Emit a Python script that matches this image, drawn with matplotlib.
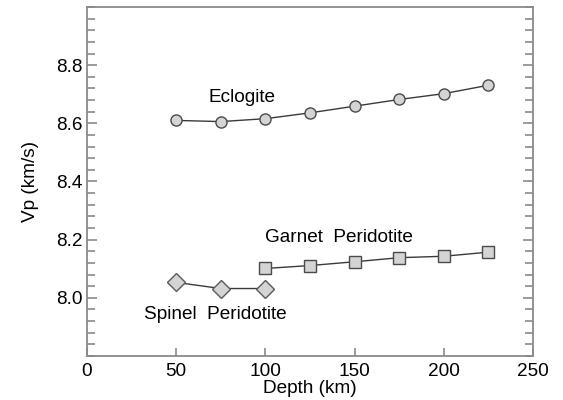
import numpy as np
import matplotlib
matplotlib.use("Agg")
from matplotlib import pyplot as plt
from matplotlib.ticker import MultipleLocator

plt.rcParams["font.family"] = ["Liberation Sans", "DejaVu Sans"]

# P-wave velocity vs depth for three mantle lithologies
eclogite_depth = [50, 75, 100, 125, 150, 175, 200, 225]
eclogite_vp = [8.610, 8.606, 8.616, 8.636, 8.659, 8.682, 8.702, 8.731]

garnet_depth = [100, 125, 150, 175, 200, 225]
garnet_vp = [8.101, 8.111, 8.124, 8.138, 8.143, 8.157]

spinel_depth = [50, 75, 100]
spinel_vp = [8.053, 8.032, 8.032]

frame_col = "#8a8a8a"
line_col = "#3a3a3a"
fill_col = "#d4d4d4"
edge_col = "#4a4a4a"
fs = 13.7

fig = plt.figure(figsize=(5.63, 4.0), dpi=100)
ax = fig.add_axes([87 / 563, 1 - 356 / 400, 446 / 563, 349 / 400])

ax.plot(eclogite_depth, eclogite_vp, "-o", color=line_col, lw=1.0,
        ms=8, mfc=fill_col, mec=edge_col, mew=1.0)
ax.plot(garnet_depth, garnet_vp, "-s", color=line_col, lw=1.0,
        ms=8.5, mfc=fill_col, mec=edge_col, mew=1.0)
ax.plot(spinel_depth, spinel_vp, "-D", color=line_col, lw=1.0,
        ms=9, mfc=fill_col, mec="#5a5a5a", mew=1.0)

ax.text(87, 8.689, "Eclogite", ha="center", va="center", fontsize=fs)
ax.text(141, 8.208, "Garnet  Peridotite", ha="center", va="center", fontsize=fs)
ax.text(72, 7.941, "Spinel  Peridotite", ha="center", va="center", fontsize=fs)

ax.set_xlim(0, 250)
ax.set_ylim(7.8, 9.0)
ax.xaxis.set_major_locator(MultipleLocator(50))
ax.yaxis.set_minor_locator(MultipleLocator(0.04))
ax.set_yticks([8.0, 8.2, 8.4, 8.6, 8.8])
ax.set_yticklabels(["8.0", "8.2", "8.4", "8.6", "8.8"])

ax.tick_params(axis="both", which="both", direction="in", color=frame_col,
               labelsize=fs)
ax.tick_params(axis="y", which="both", left=True, right=True)
ax.tick_params(axis="y", which="major", length=7, width=1.2, pad=3)
ax.tick_params(axis="y", which="minor", length=6, width=1.2)
ax.tick_params(axis="x", which="major", length=6, width=1.2, pad=5, top=False)

for s in ax.spines.values():
    s.set_color(frame_col)
    s.set_linewidth(1.3)

ax.set_xlabel("Depth (km)", fontsize=fs, va="center")
ax.xaxis.set_label_coords(0.5, -0.0917)
ax.set_ylabel("Vp (km/s)", fontsize=fs, va="center")
ax.yaxis.set_label_coords(-0.1256, 0.5)

fig.savefig("out.png", dpi=100)
